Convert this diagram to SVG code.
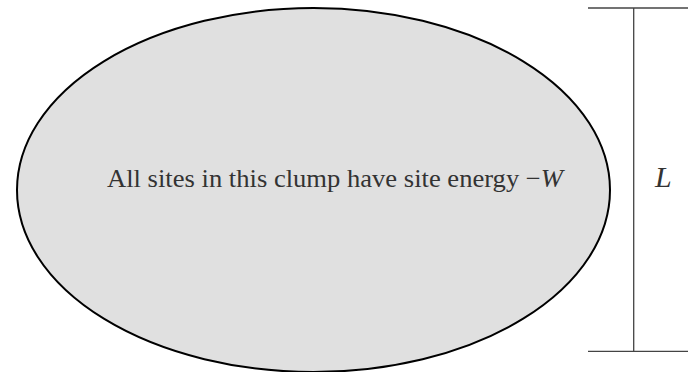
<svg xmlns="http://www.w3.org/2000/svg" width="688" height="372" viewBox="0 0 688 372">
<style>
.txt{font-family:'Liberation Serif','Times New Roman',serif;fill:#333;}
.dim{stroke:#444;stroke-width:1.3;fill:none;}
</style>
<rect width="688" height="372" fill="#fff"/>
<g id="clump">
<ellipse cx="313.5" cy="190" rx="296.5" ry="182" fill="#e0e0e0" stroke="#000" stroke-width="2"/>
<text class="txt" x="107" y="187" style="font-size:26px" textLength="456" lengthAdjust="spacingAndGlyphs">All sites in this clump have site energy −<tspan style="font-style:italic">W</tspan></text>
</g>
<g id="connectors">
<line class="dim" x1="588" y1="8" x2="688" y2="8"/>
<line class="dim" x1="588" y1="351.3" x2="688" y2="351.3"/>
<line class="dim" x1="633.7" y1="8" x2="633.7" y2="351.3"/>
</g>
<g id="label-L">
<text class="txt" x="655" y="187" style="font-size:30px;font-style:italic">L</text>
</g>
</svg>
